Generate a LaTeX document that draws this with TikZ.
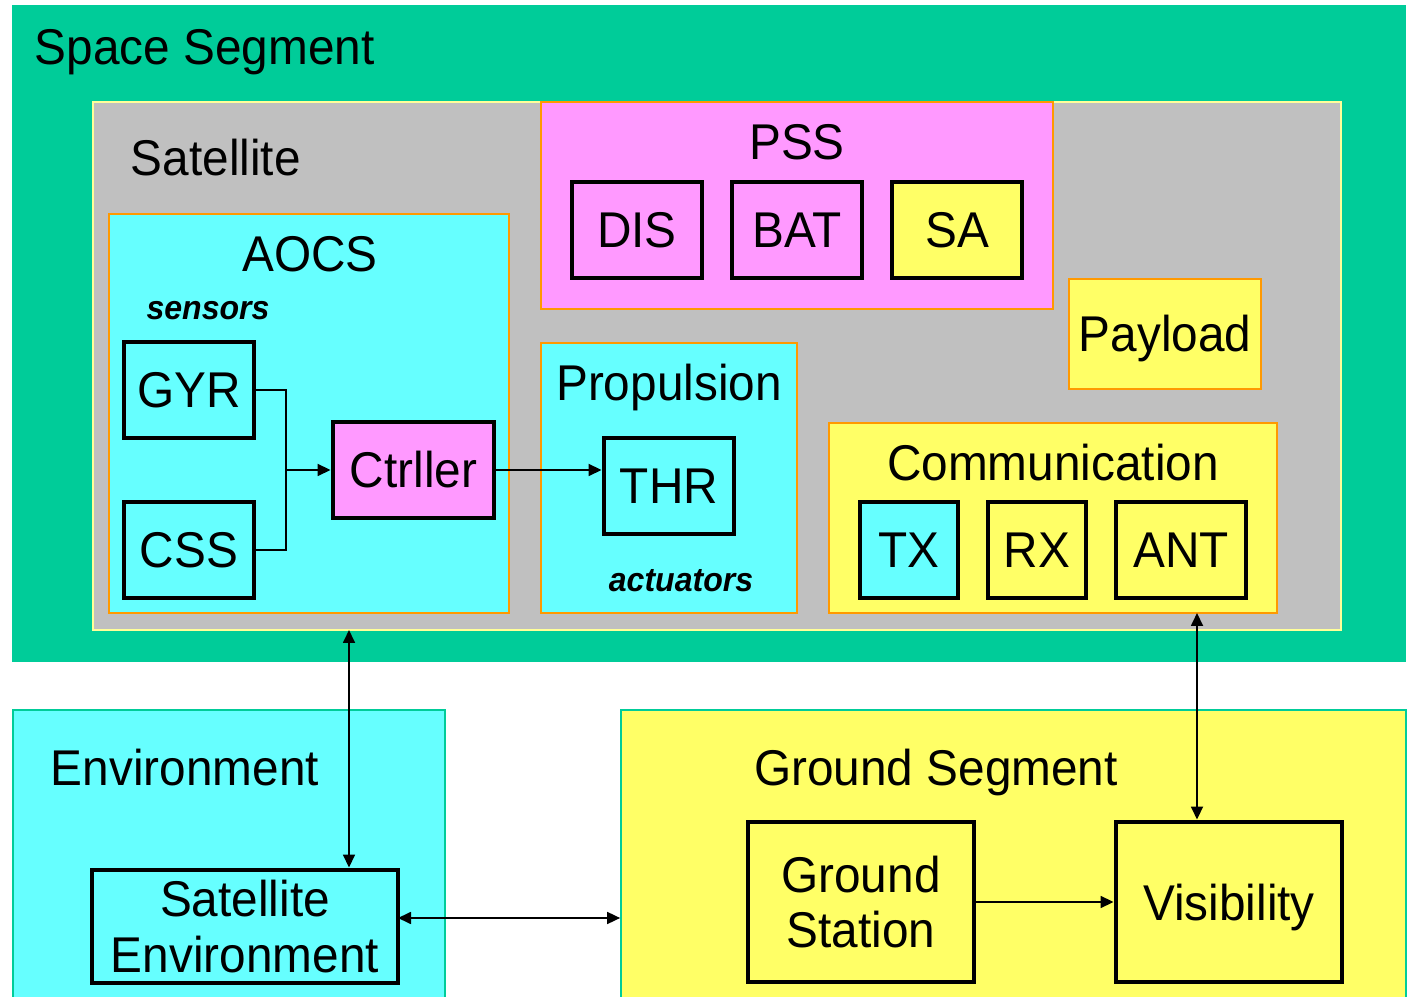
\documentclass[tikz,border=0pt]{standalone}
\usepackage{fontspec}
\setmainfont[FakeStretch=0.95]{Liberation Sans}
\usetikzlibrary{arrows.meta}

\definecolor{seg}{HTML}{00CC99}
\definecolor{satg}{HTML}{C0C0C0}
\definecolor{cya}{HTML}{66FFFF}
\definecolor{pnk}{HTML}{FF99FF}
\definecolor{yel}{HTML}{FFFF66}
\definecolor{org}{HTML}{FF9900}
\definecolor{pale}{HTML}{FFFF99}

\newcommand{\bigtxt}{\fontsize{14.3}{15.9}\selectfont}
\newcommand{\smalltxt}{\fontsize{9.6}{11}\selectfont\bfseries\itshape}

\begin{document}
\begin{tikzpicture}[>={Triangle[length=1.3mm,width=1.2mm]}, line width=0.5pt,
  grp/.style={draw=org, line width=0.6pt, inner sep=0pt},
  unit/.style={draw=black, line width=1.4pt, inner sep=0pt, font=\bigtxt},
  capunit/.style={unit, text height=3.6mm, text depth=0pt},
  lbl/.style={anchor=base, font=\bigtxt, inner sep=0pt}]

\clip (0,0) rectangle (14.09,-9.97);

\draw[solid]

(7.09,-3.335) node[fill=seg, inner sep=0pt, minimum width=13.94cm, minimum height=6.57cm] (space) {}
(7.17,-3.66) node[fill=satg, draw=pale, line width=0.6pt, inner sep=0pt, minimum width=12.48cm, minimum height=5.28cm] (sat) {}
(0.34,-0.65) node[lbl, anchor=base west] (spacelbl) {Space Segment}
(1.30,-1.76) node[lbl, anchor=base west] (satlbl) {Satellite}

% AOCS
(3.09,-4.135) node[grp, fill=cya, minimum width=4.00cm, minimum height=3.99cm] (aocs) {}
(3.10,-2.72) node[lbl] (aocslbl) {AOCS}
(2.08,-3.20) node[lbl, font=\smalltxt] (sens) {sensors}
(1.89,-3.90) node[capunit, fill=cya, minimum width=1.30cm, minimum height=0.96cm] (gyr) {GYR}
(1.89,-5.50) node[capunit, fill=cya, minimum width=1.30cm, minimum height=0.96cm] (css) {CSS}
(4.135,-4.70) node[capunit, fill=pnk, minimum width=1.61cm, minimum height=0.96cm] (ctrl) {Ctrller}

% Propulsion
(6.69,-4.78) node[grp, fill=cya, minimum width=2.56cm, minimum height=2.70cm] (prop) {}
(6.69,-4.01) node[lbl] (proplbl) {Propulsion}
(6.81,-5.92) node[lbl, font=\smalltxt] (act) {actuators}
(6.69,-4.86) node[capunit, fill=cya, minimum width=1.30cm, minimum height=0.96cm] (thr) {THR}

% PSS
(7.97,-2.055) node[grp, fill=pnk, minimum width=5.12cm, minimum height=2.07cm] (pss) {}
(7.97,-1.60) node[lbl] (psslbl) {PSS}
(6.37,-2.30) node[capunit, fill=pnk, minimum width=1.30cm, minimum height=0.96cm] (dis) {DIS}
(7.97,-2.30) node[capunit, fill=pnk, minimum width=1.30cm, minimum height=0.96cm] (bat) {BAT}
(9.57,-2.30) node[capunit, fill=yel, minimum width=1.30cm, minimum height=0.96cm] (sa) {SA}

(11.65,-3.34) node[grp, fill=yel, font=\bigtxt, text height=3.6mm, text depth=0pt, minimum width=1.92cm, minimum height=1.10cm] (pay) {Payload}

% Communication
(10.53,-5.18) node[grp, fill=yel, minimum width=4.48cm, minimum height=1.90cm] (comm) {}
(10.53,-4.81) node[lbl] (commlbl) {Communication}
(9.09,-5.50) node[capunit, fill=cya, minimum width=0.98cm, minimum height=0.96cm] (tx) {TX}
(10.37,-5.50) node[capunit, fill=yel, minimum width=0.98cm, minimum height=0.96cm] (rx) {RX}
(11.81,-5.50) node[capunit, fill=yel, minimum width=1.30cm, minimum height=0.96cm] (ant) {ANT}

% Environment
(2.29,-8.60) node[fill=cya, draw=seg, inner sep=0pt, minimum width=4.32cm, minimum height=3.00cm] (env) {}
(0.50,-7.85) node[lbl, anchor=base west] (envlbl) {Environment}
(2.45,-9.265) node[unit, fill=cya, align=center, minimum width=3.06cm, minimum height=1.13cm] (satenv) {Satellite\\Environment}

% Ground Segment
(10.135,-8.60) node[fill=yel, draw=seg, inner sep=0pt, minimum width=7.85cm, minimum height=3.00cm] (ground) {}
(9.36,-7.85) node[lbl] (groundlbl) {Ground Segment}
(8.61,-9.02) node[unit, fill=yel, align=center, minimum width=2.26cm, minimum height=1.60cm] (gs) {Ground\\Station}
(12.29,-9.02) node[capunit, fill=yel, minimum width=2.26cm, minimum height=1.60cm] (vis) {Visibility};

\coordinate (jn) at (2.86,-4.70);
\coordinate (e1) at (3.49,-6.30);
\coordinate (c1) at (11.97,-6.13);
\coordinate (s1) at (3.98,-9.18);

\draw (gyr.east) -| (jn) |- (css.east);
\draw[->] (jn) -- (ctrl.west);
\draw[->] (ctrl.east) -- (ctrl.east -| thr.west);
\draw[<->] (e1) -- (e1 |- satenv.north);
\draw[<->] (c1) -- (c1 |- vis.north);
\draw[<->] (s1) -- (s1 -| ground.west);
\draw[->] (gs.east) -- (vis.west);
\end{tikzpicture}
\end{document}
